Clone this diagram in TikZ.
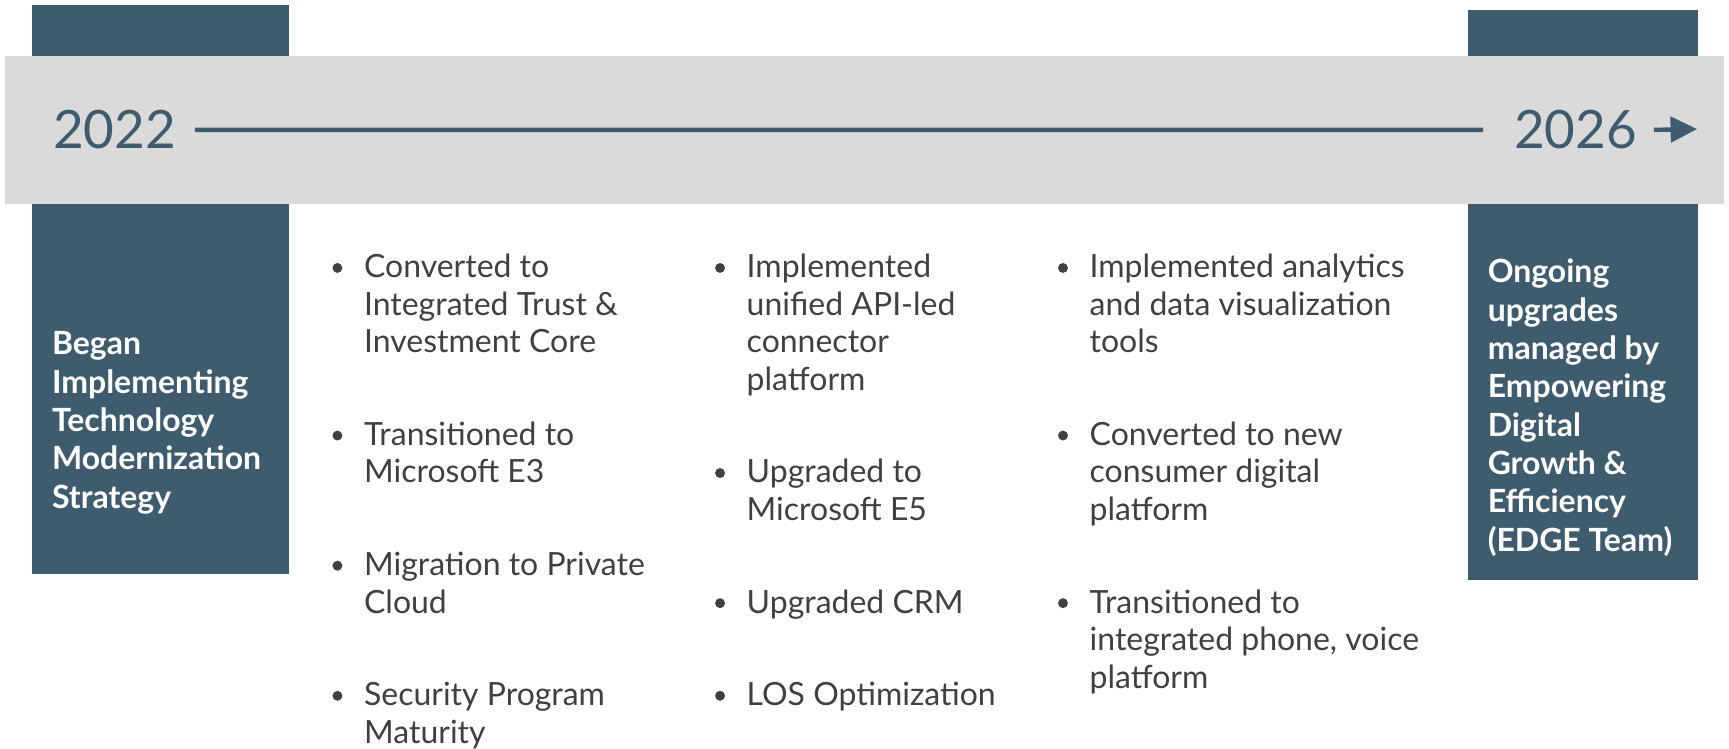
\documentclass[tikz,border=0pt]{standalone}
\usepackage{fontspec}
\setmainfont{Lato}
\usetikzlibrary{arrows.meta}
\definecolor{slate}{RGB}{62,92,110}
\definecolor{bandgray}{RGB}{218,218,218}
\definecolor{ink}{RGB}{64,64,64}
% one bullet point: name, x, first baseline y, number of lines, text
\newcommand\bulletitem[5]{%
  \node[dot] (#1dot) at (#2-24,#3-9) {};
  \node[item] (#1) at (#2,#3+34*#4-34) {#5};}
\begin{document}
\begin{tikzpicture}[x=1pt,y=-1pt,
  panel/.style={fill=slate, draw=none, inner sep=0, anchor=north west},
  year/.style={font=\fontsize{48}{58}\selectfont, text=slate, inner sep=0, anchor=base west},
  item/.style={font=\fontsize{29}{34}\selectfont, text=ink, align=left, inner sep=0, anchor=base west},
  boxtext/.style={font=\bfseries\fontsize{29}{34.8}\selectfont, text=white, align=left, inner sep=0, anchor=base west},
  dot/.style={circle, fill=ink, inner sep=0, minimum size=9pt},
  track/.style={draw=slate, line width=4pt}]
\useasboundingbox (0,0) rectangle (1568,679);

% start and end panels, with the grey band laid across them
\node[panel, minimum width=233pt, minimum height=516pt] (startbox) at (29,4) {};
\node[panel, minimum width=209pt, minimum height=517pt] (endbox) at (1331,9) {};
\node[fill=bandgray, draw=none, inner sep=0, anchor=north west,
      minimum width=1559pt, minimum height=134pt] (band) at (4,51) {};

% years and the timeline between them
\node[year] (y22) at (48,135) {2022};
\node[year] (y26) at (1373,135) {2026};
\draw[track] ([xshift=17pt]y22.east) -- ([xshift=-28pt]y26.west);
\coordinate (tip) at (1539,117);
\draw[track, -{Triangle[length=24pt,width=23pt]}] ([xshift=15pt]y26.east) -- (tip);

% panel texts (anchored at the baseline of their last line)
\node[boxtext] (starttext) at (47,461)
  {Began\\Implementing\\Technology\\Modernization\\Strategy};
\node[boxtext] (endtext) at (1349,500)
  {Ongoing\\upgrades\\managed by\\Empowering\\Digital\\Growth \&\\Efficiency\\(EDGE Team)};

% milestones, first column
\bulletitem{c1a}{330}{252}{3}{Converted to\\Integrated Trust \&\\Investment Core}
\bulletitem{c1b}{330}{404}{2}{Transitioned to\\Microsoft E3}
\bulletitem{c1c}{330}{522}{2}{Migration to Private\\Cloud}
\bulletitem{c1d}{330}{640}{2}{Security Program\\Maturity}

% second column
\bulletitem{c2a}{677}{252}{4}{Implemented\\unified API-led\\connector\\platform}
\bulletitem{c2b}{677}{438}{2}{Upgraded to\\Microsoft E5}
\bulletitem{c2c}{677}{556}{1}{Upgraded CRM}
\bulletitem{c2d}{677}{640}{1}{LOS Optimization}

% third column
\bulletitem{c3a}{988}{252}{3}{Implemented analytics\\and data visualization\\tools}
\bulletitem{c3b}{988}{404}{3}{Converted to new\\consumer digital\\platform}
\bulletitem{c3c}{988}{556}{3}{Transitioned to\\integrated phone, voice\\platform}
\end{tikzpicture}
\end{document}
